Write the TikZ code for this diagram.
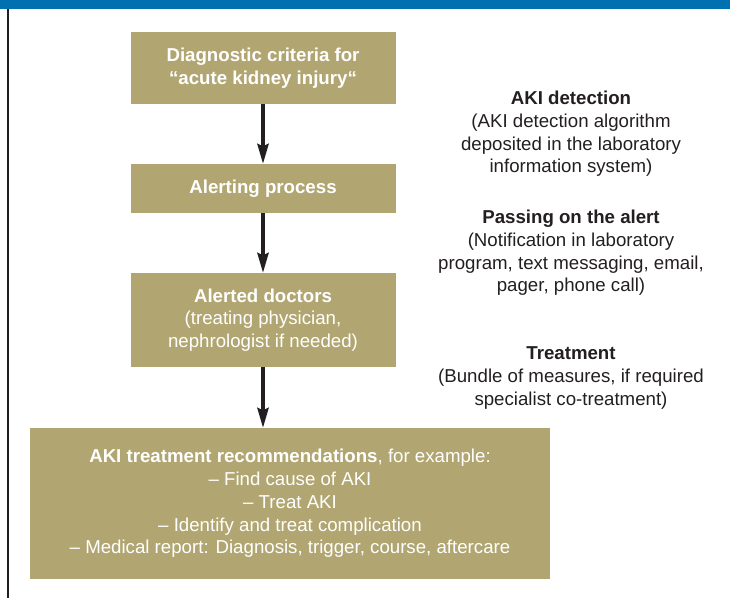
\documentclass[tikz,border=0pt]{standalone}
\usepackage{fontspec}
\setmainfont{Liberation Sans}
\usetikzlibrary{arrows.meta}
\definecolor{akitan}{RGB}{177,166,113}
\definecolor{akiblue}{RGB}{0,112,176}
\definecolor{akiink}{RGB}{35,31,32}

\begin{document}
\begin{tikzpicture}[x=0.75pt,y=-0.75pt]
\tikzstyle{stage}=[rectangle, fill=akitan, text=white, align=center,
                        inner sep=0pt, font=\fontsize{14}{17}\selectfont]
\tikzstyle{note}=[align=center, text=akiink, font=\fontsize{14}{17}\selectfont]
\tikzstyle{flow}=[akiink, line width=2.4pt, -{Stealth[length=15pt,width=8.5pt,inset=2pt]}]
\useasboundingbox (0,0) rectangle (730,598);
	\fill[akiblue] (0,0) rectangle (730,9);
	\draw[akiink, line width=1.5pt] (8,9)--(8,598);
	\node[stage, minimum width=198.75pt, minimum height=54pt] (crit) at (263,68)
		{\textbf{Diagnostic criteria for}\\\textbf{“acute kidney injury“}};
	\node[stage, minimum width=198.75pt, minimum height=36.75pt] (alert) at (263,188.5)
		{\textbf{Alerting process}};
	\node[stage, minimum width=198.75pt, minimum height=70.5pt] (doc) at (263,320)
		{\textbf{Alerted doctors}\\(treating physician,\\nephrologist if needed)};
	\node[stage, minimum width=390pt, minimum height=113.25pt] (reco) at (290,503.5)
		{\textbf{AKI treatment recommendations}, for example:\\– Find cause of AKI\\– Treat AKI\\
		– Identify and treat complication\\– Medical report: Diagnosis, trigger, course, aftercare};
	\node[note] (detect) at (571,134)
		{\textbf{AKI detection}\\(AKI detection algorithm\\deposited in the laboratory\\information system)};
	\node[note] (pass) at (571,253)
		{\textbf{Passing on the alert}\\(Notification in laboratory\\program, text messaging, email,\\pager, phone call)};
	\node[note] (treat) at (571,378)
		{\textbf{Treatment}\\(Bundle of measures, if required\\specialist co-treatment)};
\draw[flow] (crit)--(alert);
\draw[flow] (alert)--(doc);
\draw[flow] (doc.south)--(doc.south |- reco.north);
\end{tikzpicture}
\end{document}
